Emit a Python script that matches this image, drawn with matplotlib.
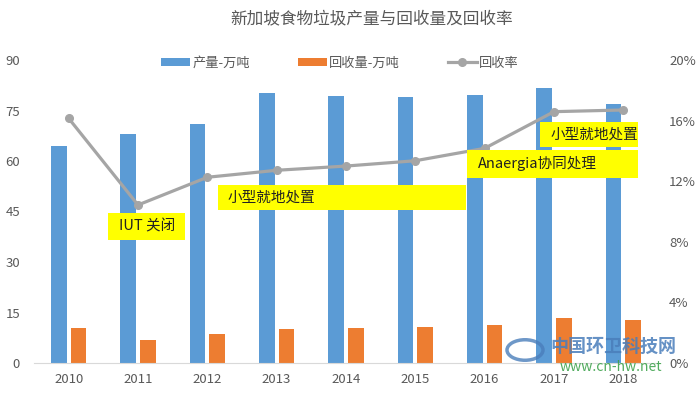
import matplotlib
matplotlib.use('Agg')
import matplotlib.pyplot as plt
import numpy as np
from matplotlib.patches import Rectangle, Circle

plt.rcParams['font.family'] = ['Noto Sans CJK SC', 'DejaVu Sans']

# ---- data ----
years = ['2010', '2011', '2012', '2013', '2014', '2015', '2016', '2017', '2018']
production = [64.5, 67.9, 70.9, 80.1, 79.3, 78.9, 79.5, 81.6, 76.8]   # 产量-万吨
recovery = [10.3, 6.9, 8.6, 10.0, 10.3, 10.6, 11.2, 13.5, 12.7]       # 回收量-万吨
rate = [16.15, 10.43, 12.26, 12.72, 13.0, 13.35, 14.17, 16.59, 16.7]   # 回收率 %
left_ticks = [0, 15, 30, 45, 60, 75, 90]
right_ticks = [0, 4, 8, 12, 16, 20]
right_labels = ['0%', '4%', '8%', '12%', '16%', '20%']

ann_text = ['IUT 关闭', '小型就地处置', 'Anaergia协同处理', '小型就地处置']
ann_tx = [0.72, 2.29, 5.91, 6.945]
ann_ty = [9.0, 10.89, 13.14, 15.05]
box_x0 = [0.562, 2.147, 5.749, 6.801]
box_x1 = [1.671, 5.735, 8.213, 8.213]
box_y0 = [8.12, 10.10, 12.21, 14.26]
box_y1 = [9.90, 11.75, 14.06, 15.91]

TXT = '#595959'
W, H = 700, 399

fig = plt.figure(figsize=(7, 3.99), dpi=100)
ax = fig.add_axes([34 / W, 1 - 363 / H, (658 - 34) / W, 303 / H])
x = np.arange(len(years))
bw = 0.226
b1 = ax.bar(x - 0.144, production, bw, color='#5B9BD5', label='产量-万吨', zorder=2)
b2 = ax.bar(x + 0.144, recovery, bw, color='#ED7D31', label='回收量-万吨', zorder=2)
ax.set_xlim(-0.5, 8.5)
ax.set_ylim(0, 90)
ax.set_yticks(left_ticks)
ax.set_yticklabels([str(t) for t in left_ticks])
ax.set_xticks(x)
ax.set_xticklabels(years)
for s in ['top', 'left', 'right']:
    ax.spines[s].set_visible(False)
ax.spines['bottom'].set_color('#D9D9D9')
ax.tick_params(axis='y', length=0, pad=10, labelsize=9.5, labelcolor=TXT)
ax.tick_params(axis='x', length=0, pad=7, labelsize=9.5, labelcolor=TXT)

ax2 = ax.twinx()
ln, = ax2.plot(x, rate, color='#A5A5A5', lw=2.3, marker='o', ms=5.5, label='回收率', zorder=3)
ax2.set_ylim(0, 20)
ax2.set_yticks(right_ticks)
ax2.set_yticklabels(right_labels)
for s in ['top', 'left', 'right', 'bottom']:
    ax2.spines[s].set_visible(False)
ax2.tick_params(axis='y', length=0, pad=8, labelsize=9.5, labelcolor=TXT)

for t, tx, ty, x0, x1, y0, y1 in zip(ann_text, ann_tx, ann_ty, box_x0, box_x1, box_y0, box_y1):
    ax2.add_patch(Rectangle((x0, y0), x1 - x0, y1 - y0, facecolor='#FFFF00',
                            edgecolor='none', zorder=5))
    ax2.text(tx, ty, t, fontsize=10.5, color='#222222', ha='left', va='center', zorder=6)

fig.text(371.7 / W, 1 - 18.5 / H, '新加坡食物垃圾产量与回收量及回收率', ha='center', va='center',
         fontsize=12, color=TXT)

fig.legend([b1, b2, ln], ['产量-万吨', '回收量-万吨', '回收率'], loc='center',
           bbox_to_anchor=(340 / W, 1 - 63 / H), ncol=3, frameon=False,
           fontsize=9.5, labelcolor=TXT, handlelength=2.2, handleheight=0.5,
           handletextpad=0.2, columnspacing=3.6)

# watermark
fig.patches.append(Circle((525 / W, 1 - 350 / H), 18 / W, transform=fig.transFigure,
                          facecolor='none', edgecolor='#4A7EBB', lw=2.5, alpha=0.8))
fig.text(613 / W, 1 - 346 / H, '中国环卫科技网', ha='center', va='center', fontsize=13,
         fontweight='bold', color='#4A7EBB', alpha=0.85)
fig.text(611 / W, 1 - 367 / H, 'www.cn-hw.net', ha='center', va='center', fontsize=10,
         color='#3FA34D', alpha=0.9)

fig.savefig('out.png', dpi=100)
